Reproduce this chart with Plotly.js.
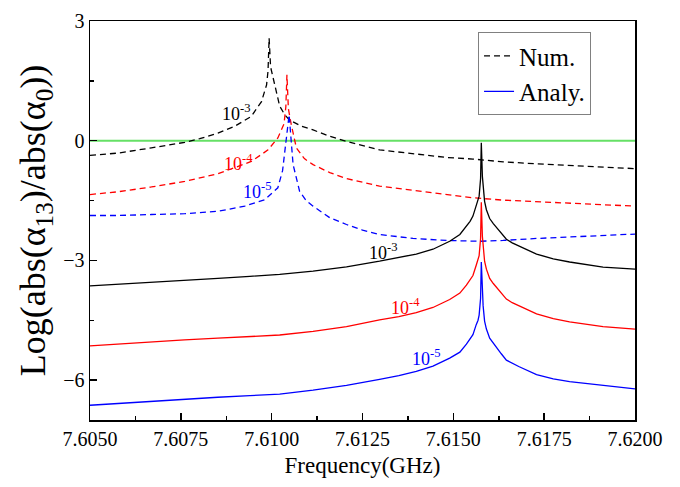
<!DOCTYPE html>
<html>
<head>
<meta charset="utf-8">
<script src="https://cdn.plot.ly/plotly-3.0.1.min.js"></script>
<style>html,body{margin:0;padding:0;background:#fff;}#chart{width:680px;height:487px;}</style>
</head>
<body>
<div id="chart"></div>
<script>
// Num. (dashed) curves
var numBlackX = [7.6050, 7.60577, 7.60669, 7.60761, 7.60802, 7.60852, 7.60898, 7.60944, 7.60972, 7.60986, 7.60990, 7.60993, 7.60997, 7.61004, 7.61022, 7.61036, 7.61049, 7.61080, 7.61114, 7.61160, 7.61206, 7.61297, 7.61389, 7.61481, 7.61554, 7.61637, 7.61729, 7.61820, 7.61912, 7.62000];
var numBlackY = [-0.37, -0.31, -0.18, -0.04, 0.05, 0.19, 0.36, 0.61, 0.98, 1.40, 1.75, 2.57, 1.85, 1.57, 0.87, 0.65, 0.52, 0.37, 0.27, 0.11, -0.02, -0.23, -0.33, -0.42, -0.46, -0.53, -0.58, -0.62, -0.66, -0.70];

var numRedX = [7.6050, 7.60577, 7.60669, 7.60761, 7.60852, 7.60944, 7.60990, 7.61017, 7.61034, 7.61039, 7.61042, 7.61046, 7.61054, 7.61068, 7.61090, 7.61114, 7.61160, 7.61206, 7.61297, 7.61389, 7.61481, 7.61554, 7.61637, 7.61729, 7.61820, 7.61912, 7.62000];
var numRedY = [-1.35, -1.28, -1.16, -1.02, -0.83, -0.52, -0.23, 0.07, 0.42, 0.85, 1.65, 0.80, 0.40, -0.18, -0.45, -0.60, -0.80, -0.95, -1.14, -1.24, -1.35, -1.43, -1.49, -1.53, -1.58, -1.61, -1.64];

var numBlueX = [7.6050, 7.60577, 7.60669, 7.60761, 7.60852, 7.60926, 7.60981, 7.61017, 7.61030, 7.61040, 7.61048, 7.61059, 7.61077, 7.61095, 7.61114, 7.61160, 7.61206, 7.61250, 7.61297, 7.61389, 7.61481, 7.61573, 7.61637, 7.61729, 7.61820, 7.61912, 7.62000];
var numBlueY = [-1.875, -1.875, -1.85, -1.83, -1.77, -1.64, -1.48, -1.18, -0.75, 0.0, 0.65, -0.60, -1.27, -1.50, -1.64, -1.93, -2.10, -2.24, -2.35, -2.45, -2.50, -2.52, -2.50, -2.45, -2.41, -2.375, -2.34];

// Analy. (solid) curves
var anaBlackX = [7.6050, 7.6060, 7.60669, 7.6076, 7.60852, 7.6094, 7.61022, 7.61114, 7.61206, 7.61297, 7.61350, 7.61398, 7.61444, 7.61490, 7.61518, 7.61536, 7.61546, 7.61554, 7.61563, 7.61568, 7.61571, 7.61575, 7.61577, 7.61580, 7.61582, 7.61586, 7.61591, 7.61600, 7.61610, 7.61619, 7.61632, 7.61646, 7.61662, 7.61680, 7.61729, 7.61775, 7.61820, 7.61912, 7.62000];
var anaBlackY = [-3.64, -3.59, -3.56, -3.51, -3.45, -3.40, -3.35, -3.27, -3.16, -3.02, -2.93, -2.84, -2.72, -2.52, -2.35, -2.14, -2.02, -1.89, -1.64, -1.50, -1.39, -0.95, -0.05, -0.90, -1.14, -1.52, -1.73, -1.95, -2.08, -2.18, -2.33, -2.47, -2.56, -2.64, -2.84, -2.96, -3.04, -3.17, -3.22];

var anaRedX = [7.6050, 7.6060, 7.60669, 7.6076, 7.60852, 7.6094, 7.61022, 7.61114, 7.61206, 7.61297, 7.61350, 7.61398, 7.61444, 7.61490, 7.61518, 7.61536, 7.61546, 7.61554, 7.61563, 7.61568, 7.61571, 7.61575, 7.61577, 7.61580, 7.61582, 7.61586, 7.61591, 7.61600, 7.61610, 7.61619, 7.61632, 7.61646, 7.61662, 7.61680, 7.61729, 7.61775, 7.61820, 7.61912, 7.62000];
var anaRedY = [-5.14, -5.08, -5.04, -4.99, -4.95, -4.91, -4.87, -4.78, -4.66, -4.49, -4.41, -4.31, -4.18, -3.98, -3.82, -3.62, -3.50, -3.38, -3.12, -3.00, -2.88, -2.45, -1.54, -2.40, -2.64, -3.02, -3.22, -3.45, -3.58, -3.68, -3.83, -3.97, -4.06, -4.13, -4.34, -4.46, -4.54, -4.66, -4.72];

var anaBlueX = [7.6050, 7.6060, 7.60669, 7.6076, 7.60852, 7.6094, 7.61022, 7.61114, 7.61206, 7.61297, 7.61350, 7.61398, 7.61444, 7.61490, 7.61518, 7.61536, 7.61546, 7.61554, 7.61563, 7.61568, 7.61571, 7.61575, 7.61577, 7.61580, 7.61582, 7.61586, 7.61591, 7.61600, 7.61610, 7.61619, 7.61632, 7.61646, 7.61662, 7.61680, 7.61729, 7.61775, 7.61820, 7.61912, 7.62000];
var anaBlueY = [-6.63, -6.57, -6.53, -6.48, -6.43, -6.39, -6.35, -6.25, -6.13, -5.98, -5.89, -5.78, -5.65, -5.45, -5.30, -5.10, -4.98, -4.86, -4.61, -4.50, -4.37, -3.95, -3.04, -3.90, -4.14, -4.52, -4.72, -4.95, -5.08, -5.18, -5.34, -5.50, -5.58, -5.66, -5.86, -5.97, -6.04, -6.14, -6.22];

// reference line
var refX = [7.6050, 7.6200];
var refY = [0, 0];

// labels
var labelText = ['10<sup>-3</sup>', '10<sup>-4</sup>', '10<sup>-5</sup>', '10<sup>-3</sup>', '10<sup>-4</sup>', '10<sup>-5</sup>'];
var labelX = [7.60904, 7.60909, 7.60962, 7.61308, 7.61369, 7.61427];
var labelY = [0.70, -0.55, -1.25, -2.78, -4.15, -5.43];
var labelColor = ['#000000', '#ff0000', '#0000ff', '#000000', '#ff0000', '#0000ff'];

var serif = 'Liberation Serif';
var dashPat = '6px,4px';
var lw = 1.3;

var traces = [
  {x: refX, y: refY, mode: 'lines', line: {color: '#66e066', width: 2}, showlegend: false, hoverinfo: 'skip'},
  {x: numBlackX, y: numBlackY, mode: 'lines', name: 'Num.', line: {color: '#000000', width: lw, dash: dashPat}, showlegend: true},
  {x: numRedX, y: numRedY, mode: 'lines', line: {color: '#ff0000', width: lw, dash: dashPat}, showlegend: false},
  {x: numBlueX, y: numBlueY, mode: 'lines', line: {color: '#0000ff', width: lw, dash: dashPat}, showlegend: false},
  {x: anaBlackX, y: anaBlackY, mode: 'lines', line: {color: '#000000', width: lw}, showlegend: false},
  {x: anaRedX, y: anaRedY, mode: 'lines', line: {color: '#ff0000', width: lw}, showlegend: false},
  {x: anaBlueX, y: anaBlueY, mode: 'lines', name: 'Analy.', line: {color: '#0000ff', width: lw}, showlegend: true}
];

var annotations = labelText.map(function(t, i) {
  return {x: labelX[i], y: labelY[i], xref: 'x', yref: 'y', text: t, showarrow: false,
          font: {family: serif, size: 18, color: labelColor[i]}};
});

var layout = {
  width: 680, height: 487,
  margin: {l: 90, r: 45, t: 21, b: 67},
  paper_bgcolor: '#ffffff', plot_bgcolor: '#ffffff',
  font: {family: serif, color: '#000000'},
  showlegend: true,
  legend: {x: 0.712, y: 0.972, xanchor: 'left', yanchor: 'top', bgcolor: '#ffffff',
           bordercolor: '#808080', borderwidth: 1, font: {family: serif, size: 25, color: '#000'},
           traceorder: 'normal'},
  xaxis: {range: [7.6050, 7.6200], tick0: 7.6050, dtick: 0.0025, tickformat: '.4f',
          ticks: 'inside', ticklen: 7, tickwidth: 1.5, tickcolor: '#000',
          minor: {ticks: 'inside', ticklen: 4, tickwidth: 1.5, dtick: 0.00125, tickcolor: '#000'},
          showline: true, linecolor: '#000', linewidth: 1.5, mirror: true,
          showgrid: false, zeroline: false,
          tickfont: {family: serif, size: 20, color: '#000'},
          title: {text: 'Frequency(GHz)', font: {family: serif, size: 23, color: '#000'}, standoff: 8}},
  yaxis: {range: [-7, 3], tick0: 0, dtick: 3,
          ticks: 'inside', ticklen: 7, tickwidth: 1.5, tickcolor: '#000',
          minor: {ticks: 'inside', ticklen: 4, tickwidth: 1.5, dtick: 1.5, tickcolor: '#000'},
          showline: true, linecolor: '#000', linewidth: 1.5, mirror: true,
          showgrid: false, zeroline: false,
          tickfont: {family: serif, size: 20, color: '#000'},
          title: {text: 'Log(abs(α<sub>13</sub>)/abs(α<sub>0</sub>))', font: {family: serif, size: 36, color: '#000'}, standoff: 6}},
  annotations: annotations
};

Plotly.newPlot('chart', traces, layout, {displayModeBar: false, staticPlot: true});
</script>
</body>
</html>
